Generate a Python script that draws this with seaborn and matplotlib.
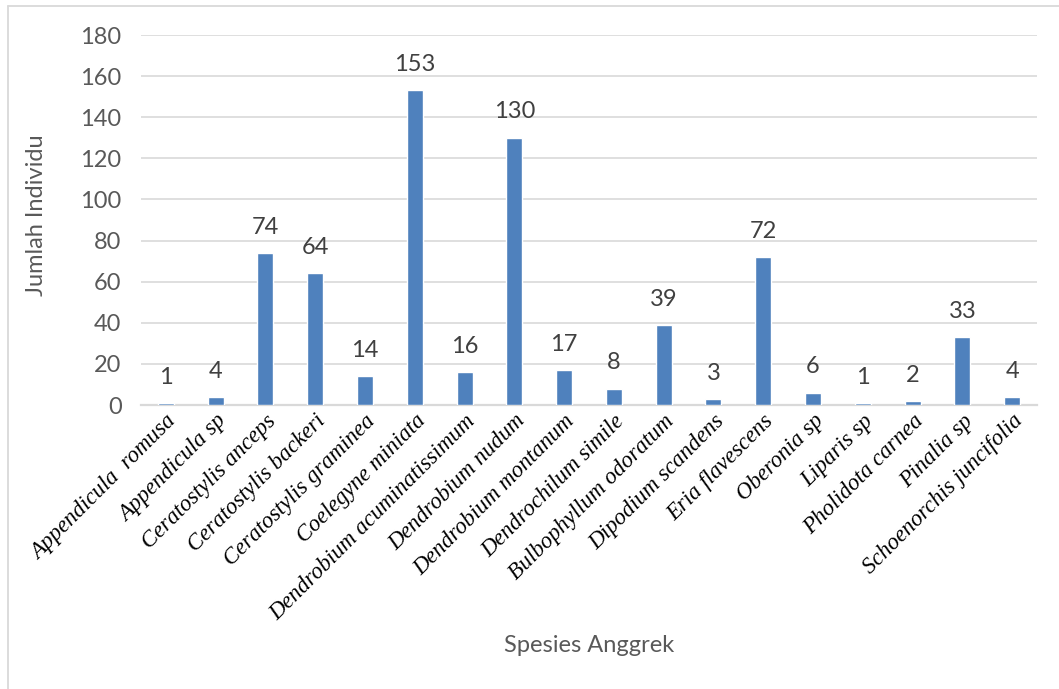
import matplotlib
matplotlib.use("Agg")
import matplotlib.pyplot as plt
from matplotlib.lines import Line2D
import seaborn as sns
import pandas as pd

species = [
    "Appendicula  romusa", "Appendicula sp", "Ceratostylis anceps",
    "Ceratostylis backeri", "Ceratostylis graminea", "Coelegyne miniata",
    "Dendrobium acuminatissimum", "Dendrobium nudum", "Dendrobium montanum",
    "Dendrochilum simile", "Bulbophyllum odoratum", "Dipodium scandens",
    "Eria flavescens", "Oberonia sp", "Liparis sp", "Pholidota carnea",
    "Pinalia sp", "Schoenorchis juncifolia",
]
counts = [1, 4, 74, 64, 14, 153, 16, 130, 17, 8, 39, 3, 72, 6, 1, 2, 33, 4]
y_ticks = [0, 20, 40, 60, 80, 100, 120, 140, 160, 180]

df = pd.DataFrame({"Spesies": species, "Jumlah": counts})

sns.set_theme(style="white")
plt.rcParams["font.family"] = ["Lato", "DejaVu Sans"]

W, H = 1059, 689
fig = plt.figure(figsize=(W / 100, H / 100), dpi=100)
ax = fig.add_axes([141 / W, 1 - 405 / H, (1037 - 141) / W, (405 - 35) / H])

sns.barplot(data=df, x="Spesies", y="Jumlah", color="#4F81BD",
            width=0.32, saturation=1, ax=ax, zorder=3)

ax.set_ylim(0, 180)
ax.set_xlim(-0.5, len(species) - 0.5)
ax.set_yticks(y_ticks)
ax.yaxis.grid(True, color="#D9D9D9", linewidth=1.2, zorder=0)
ax.set_axisbelow(True)
for side in ["top", "right", "left"]:
    ax.spines[side].set_visible(False)
ax.spines["bottom"].set_color("#D9D9D9")
ax.spines["bottom"].set_linewidth(1.6)
ax.spines["bottom"].set_zorder(1)

ax.tick_params(axis="y", length=0, pad=14, labelsize=17, labelcolor="#595959")
ax.tick_params(axis="x", length=0, pad=4)
ax.set_xticks(range(len(species)))
ax.set_xticklabels(species, rotation=45, ha="right", va="top",
                   rotation_mode="anchor", fontsize=16.5,
                   family="Liberation Serif", style="italic", color="black")

for i, v in enumerate(counts):
    ax.annotate(str(v), (i, v), xytext=(0, 11), textcoords="offset points",
                ha="center", va="bottom", fontsize=17, color="#404040")

ax.set_xlabel("")
ax.set_ylabel("")
fig.text(37 / W, 1 - 215 / H, "Jumlah Individu", rotation=90,
         ha="center", va="center", fontsize=17, color="#595959")
fig.text(589 / W, 1 - 645 / H, "Spesies Anggrek",
         ha="center", va="center", fontsize=17, color="#595959")

# thin frame around the chart area
fig.add_artist(Line2D([8 / W, 1.0], [1 - 6 / H, 1 - 6 / H],
                      color="#D9D9D9", linewidth=1.3))
fig.add_artist(Line2D([8 / W, 8 / W], [0.0, 1 - 6 / H],
                      color="#D9D9D9", linewidth=1.3))

fig.savefig("out.png", dpi=100, facecolor="white")
